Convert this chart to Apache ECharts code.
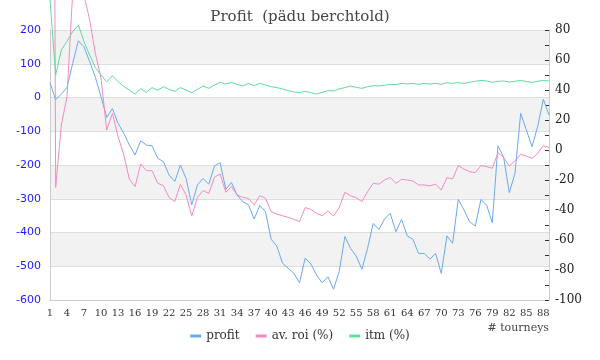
<!DOCTYPE html>
<html>
<head>
<meta charset="utf-8">
<script src="https://cdn.jsdelivr.net/npm/echarts@6/dist/echarts.min.js"></script>
<style>html,body{margin:0;padding:0;background:#fff}#c{width:600px;height:360px}</style>
</head>
<body>
<div id="c"></div>
<script>
var categories = [];
for (var k = 1; k <= 89; k++) categories.push(String(k));

var profit = [44,-7,10,30,101,168,150,106,60,2,-59,-33,-76,-106,-141,-170,-128,-141,-143,-180,
-190,-230,-249,-200,-240,-318,-259,-240,-257,-203,-193,-272,-252,-289,-309,-318,-360,-320,-338,-420,
-440,-491,-506,-521,-549,-476,-493,-526,-549,-531,-568,-516,-412,-447,-470,-509,-447,-373,-391,-360,
-343,-398,-361,-410,-420,-462,-462,-479,-462,-521,-410,-432,-302,-333,-368,-381,-302,-319,-371,-143,
-177,-282,-225,-47,-96,-146,-86,-5,-52];

var avRoi = [900,-25,16.7,35.6,105,120,103,86.7,64.4,47.8,13.3,24.4,8.9,-3,-19.6,-24.4,-9.3,-13.8,-13.8,-22.2,
-23.8,-31.6,-34.4,-22.9,-30,-44,-31.6,-27,-29,-18.2,-16,-28.2,-24.4,-30,-31.6,-32.2,-36.7,-30.4,-32.2,-41.1,
-42.7,-43.8,-44.9,-46.2,-47.8,-38.4,-39.6,-42.2,-43.8,-40.7,-44,-38.4,-28.2,-30.4,-31.8,-34.4,-27.8,-22.2,-22.8,-20,
-18.3,-22.2,-19.6,-20,-20.7,-23.3,-23.3,-24,-22.7,-26.7,-18.4,-19.3,-10.4,-12.7,-14.4,-15.1,-10.4,-11.1,-12.2,-1.8,
-4.9,-10.7,-7.3,-2.9,-4,-5.6,-2.2,2.9,1.6];

var itm = [100,50,66.7,72.5,78.9,83.3,72.2,63.3,55,50,45.3,49.6,45.6,42.4,40,37.2,40.9,38.5,41.6,39.8,
42.2,40.3,39.2,41.6,40,38.2,40.4,42.7,41.1,43.3,45.1,44,45.1,43.8,42.7,44.4,42.9,44.4,43.3,42.2,
41.6,40.7,39.6,38.7,38.2,39.1,38.2,37.3,38.4,39.6,39.3,40.7,41.6,42.7,41.8,41.1,42.2,42.9,42.7,43.1,
43.8,43.6,44.4,44,44.4,43.8,44.4,44,44.4,43.8,44.9,44.4,44.9,44.4,45.1,45.8,46.4,46,45.1,45.8,
46,45.3,45.8,46.4,45.6,45.1,45.8,46.4,46];

var seriesNames = ['profit', 'av. roi (%)', 'itm (%)'];
var colors = ['#6aaaf0', '#f28cc0', '#5fdc9e'];

var chart = echarts.init(document.getElementById('c'), null, {renderer: 'canvas'});
chart.setOption({
  animation: false,
  color: colors,
  title: {
    text: 'Profit  (pädu berchtold)',
    left: 'center', top: 5,
    textStyle: {fontFamily: 'DejaVu Serif', fontSize: 15, fontWeight: 'normal', color: '#444'}
  },
  legend: {
    bottom: 13, left: 'center',
    icon: 'rect', itemWidth: 11, itemHeight: 3, itemGap: 16,
    textStyle: {fontFamily: 'DejaVu Serif', fontSize: 12, color: '#333'},
    data: seriesNames
  },
  grid: {left: 50, right: 51, top: 30, bottom: 60, containLabel: false},
  xAxis: {
    type: 'category', data: categories, boundaryGap: false,
    name: '# tourneys', nameLocation: 'end', nameGap: 0,
    nameTextStyle: {fontFamily: 'DejaVu Serif', fontSize: 11, color: '#444', align: 'right', verticalAlign: 'top', padding: [23, 0, 0, 0]},
    axisLine: {onZero: false, lineStyle: {color: '#ccc'}},
    axisTick: {show: false},
    axisLabel: {interval: 2, margin: 8, fontFamily: 'DejaVu Serif', fontSize: 10, color: '#333'},
    splitLine: {show: false}
  },
  yAxis: [{
    type: 'value', min: -600, max: 200, interval: 100,
    axisLine: {show: true, lineStyle: {color: '#ccc'}},
    axisTick: {show: false},
    axisLabel: {margin: 9, fontFamily: 'DejaVu Sans', fontSize: 11, color: '#1a1aff'},
    splitLine: {show: true, lineStyle: {color: '#ddd'}},
    splitArea: {show: true, areaStyle: {color: ['#ffffff', '#f2f2f2']}}
  }, {
    type: 'value', min: -100, max: 80, interval: 10, position: 'right',
    axisLine: {show: true, lineStyle: {color: '#ccc'}},
    axisTick: {show: true, inside: true, length: 4, lineStyle: {color: '#333'}},
    axisLabel: {margin: 6, fontFamily: 'DejaVu Serif', fontSize: 12, color: '#222',
      formatter: function (v) { return (v % 20 === 0) ? String(v) : ''; }},
    splitLine: {show: false}
  }],
  series: [
    {name: seriesNames[0], type: 'line', yAxisIndex: 0, data: profit, showSymbol: false, clip: false, lineStyle: {width: 1}},
    {name: seriesNames[1], type: 'line', yAxisIndex: 1, data: avRoi, showSymbol: false, clip: false, lineStyle: {width: 1}},
    {name: seriesNames[2], type: 'line', yAxisIndex: 1, data: itm, showSymbol: false, clip: false, lineStyle: {width: 1}}
  ]
});
</script>
</body>
</html>
